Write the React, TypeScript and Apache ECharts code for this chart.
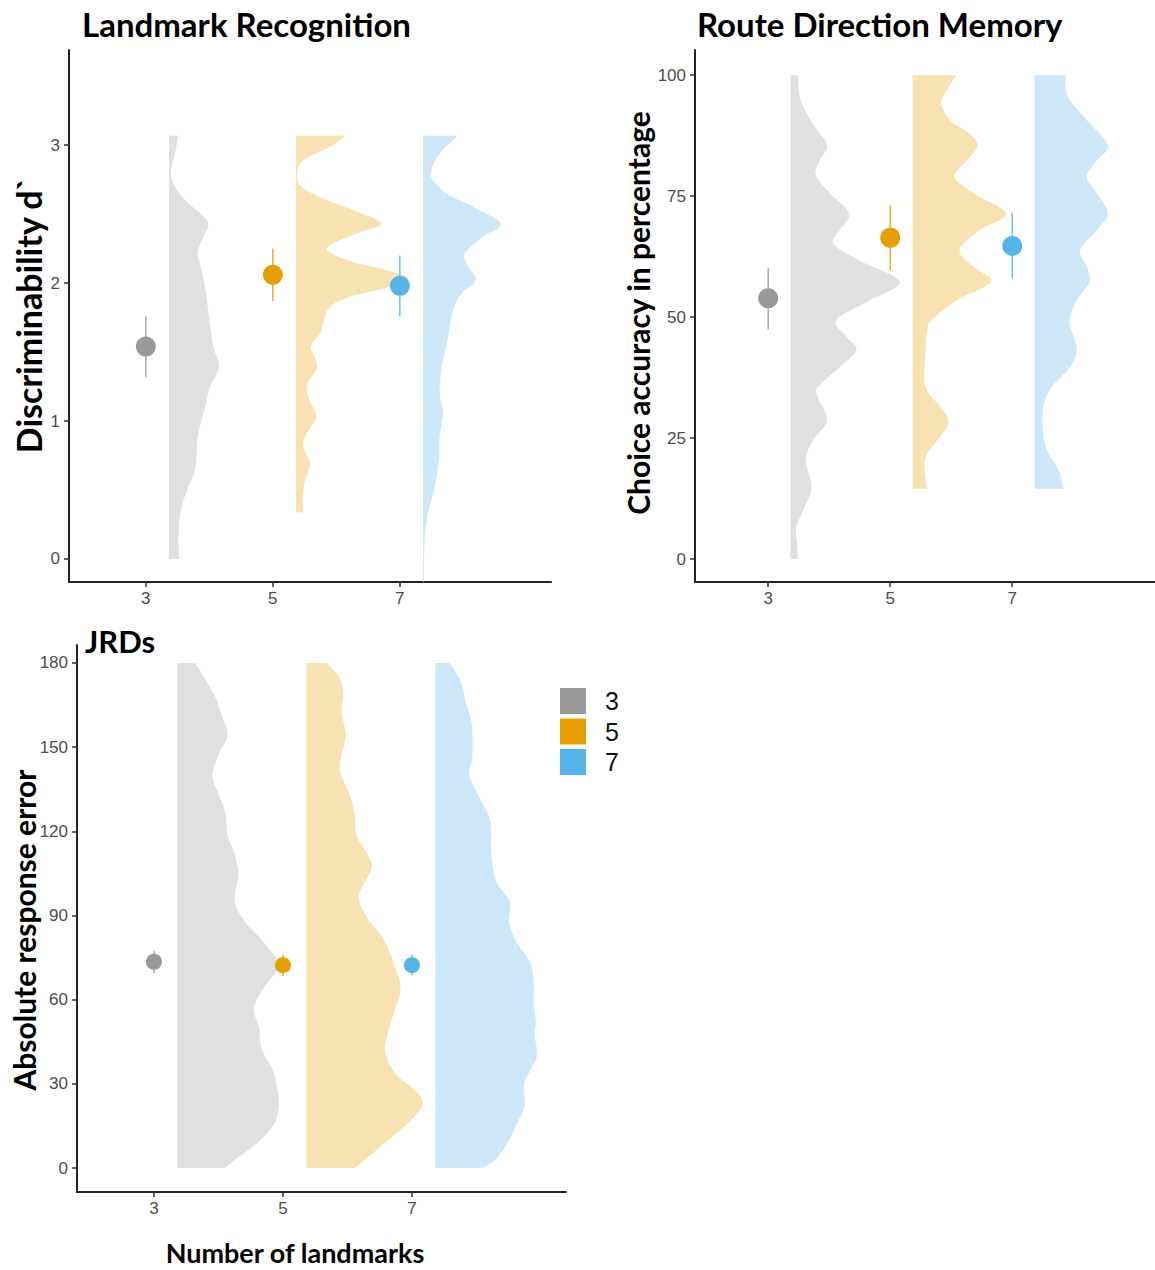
import React, { useEffect, useRef } from "react";
import * as echarts from "echarts";

const groups = ["3", "5", "7"];
const groupX = [3, 5, 7];
const pointColors = ["#999999", "#E69F00", "#56B4E9"];
const violinColors = ["#E0E0E0", "#F8E2B2", "#CCE8F8"];
const violinOffset = 0.365;
const xTicks = [3, 5, 7];

// Landmark Recognition (d')
const lrTicks = [0, 1, 2, 3];
const lrMean = [1.54, 2.06, 1.98];
const lrLow = [1.32, 1.87, 1.76];
const lrHigh = [1.76, 2.25, 2.2];
const lrViolin3 = [[3.07,0.147],[2.94,0.094],[2.8,0.031],[2.7,0.094],[2.6,0.252],[2.505,0.488],[2.43,0.619],[2.335,0.54],[2.215,0.451],[2.094,0.514],[1.925,0.583],[1.732,0.635],[1.538,0.698],[1.394,0.787],[1.249,0.646],[1.128,0.583],[1.007,0.514],[0.886,0.451],[0.766,0.436],[0.645,0.409],[0.524,0.304],[0.403,0.215],[0.283,0.163],[0.162,0.147],[0.0,0.157]];
const lrViolin5 = [[3.07,0.782],[2.988,0.535],[2.891,0.115],[2.795,0.021],[2.698,0.089],[2.601,0.483],[2.529,0.903],[2.432,1.339],[2.36,0.955],[2.287,0.588],[2.239,0.493],[2.167,0.798],[2.094,1.428],[2.034,1.769],[1.973,1.48],[1.901,0.85],[1.828,0.535],[1.732,0.441],[1.635,0.378],[1.538,0.236],[1.394,0.336],[1.273,0.178],[1.176,0.194],[1.031,0.315],[0.911,0.168],[0.814,0.115],[0.693,0.22],[0.572,0.142],[0.452,0.105],[0.336,0.115]];
const lrViolin7 = [[3.07,0.551],[2.94,0.262],[2.819,0.131],[2.746,0.157],[2.65,0.367],[2.553,0.787],[2.432,1.223],[2.336,0.945],[2.215,0.656],[2.143,0.682],[2.022,0.829],[1.925,0.604],[1.804,0.472],[1.611,0.394],[1.49,0.341],[1.37,0.289],[1.201,0.262],[1.056,0.315],[0.887,0.262],[0.718,0.252],[0.525,0.184],[0.332,0.079],[0.14,0.026],[-0.169,0.01]];

// Route Direction Memory (%)
const rdmTicks = [0, 25, 50, 75, 100];
const rdmMean = [53.9, 66.4, 64.7];
const rdmLow = [47.5, 59.7, 57.9];
const rdmHigh = [60.1, 73.1, 71.6];
const rdmViolin3 = [[100,0.126],[96.2,0.142],[93.5,0.208],[89.3,0.399],[85.5,0.601],[82.4,0.481],[79.3,0.415],[75.6,0.645],[71.4,0.962],[68.0,0.809],[65.2,0.699],[61.8,1.11],[57.3,1.792],[53.5,1.3],[49.4,0.754],[45.9,0.918],[43.2,1.082],[39.7,0.809],[35.6,0.454],[33.6,0.443],[28.7,0.601],[24.6,0.372],[20.5,0.251],[15.0,0.344],[10.8,0.235],[6.7,0.098],[3.2,0.109],[0,0.126]];
const rdmViolin5 = [[100,0.716],[96.9,0.563],[94.2,0.47],[90.7,0.617],[88.3,0.891],[85.5,1.066],[82.4,0.891],[79.0,0.689],[75.6,1.0],[71.4,1.53],[68.0,1.109],[63.8,0.77],[60.4,1.0],[57.3,1.29],[53.5,0.727],[49.4,0.317],[46.6,0.235],[41.1,0.208],[37.0,0.191],[34.3,0.262],[31.5,0.454],[28.4,0.59],[25.3,0.454],[21.9,0.246],[19.1,0.197],[14.5,0.235]];
const rdmViolin7 = [[100,0.514],[96.9,0.514],[94.2,0.612],[90.7,0.858],[85.5,1.202],[82.4,1.022],[79.0,0.858],[75.6,1.022],[71.4,1.202],[68.0,1.022],[63.8,0.749],[60.4,0.858],[57.3,0.902],[53.5,0.694],[49.4,0.574],[45.9,0.639],[43.2,0.694],[39.7,0.585],[35.6,0.284],[32.2,0.158],[27.3,0.131],[22.6,0.202],[18.4,0.393],[14.5,0.475]];

// JRDs (absolute response error)
const jrdTicks = [0, 30, 60, 90, 120, 150, 180];
const jrdMean = [73.5, 72.3, 72.3];
const jrdLow = [69.4, 68.4, 68.7];
const jrdHigh = [77.3, 76.1, 76.0];
const jrdViolin3 = [[180,0.269],[174.5,0.424],[167.4,0.594],[161.4,0.682],[154.3,0.775],[147.2,0.63],[139.5,0.543],[132.9,0.646],[125.8,0.749],[118.6,0.775],[111.5,0.889],[104.4,0.941],[94.9,0.889],[87.8,1.044],[80.6,1.328],[72.3,1.561],[64.0,1.328],[56.9,1.183],[49.8,1.266],[42.7,1.302],[34.4,1.483],[26.1,1.561],[20.1,1.561],[14.2,1.457],[8.2,1.199],[3.4,0.915],[0,0.734]];
const jrdViolin5 = [[180,0.31],[174.5,0.517],[168.6,0.568],[162.6,0.543],[154.3,0.61],[147.2,0.543],[141.0,0.527],[132.9,0.672],[125.8,0.749],[118.6,0.775],[111.5,0.956],[106.8,1.008],[99.6,0.853],[94.9,0.817],[87.8,0.982],[81.8,1.189],[73.5,1.344],[64.0,1.457],[54.5,1.344],[46.2,1.24],[40.3,1.23],[33.2,1.395],[27.3,1.705],[22.5,1.798],[16.6,1.602],[9.4,1.24],[3.4,0.93],[0,0.749]];
const jrdViolin7 = [[180,0.222],[173.3,0.393],[165.0,0.481],[159.0,0.558],[147.2,0.574],[141.0,0.522],[135.3,0.61],[129.4,0.739],[123.4,0.853],[111.5,0.868],[102.0,0.946],[94.9,1.152],[87.8,1.142],[80.6,1.256],[73.5,1.463],[66.3,1.525],[58.0,1.525],[52.2,1.556],[47.4,1.54],[40.3,1.576],[35.6,1.488],[29.7,1.375],[22.5,1.385],[16.6,1.282],[9.4,1.127],[3.4,0.946],[0,0.739]];

const panels = [
  { mean: lrMean, low: lrLow, high: lrHigh, violins: [lrViolin3, lrViolin5, lrViolin7], ticks: lrTicks,
    grid: { left: 69, top: 50, width: 482, height: 532 }, xRange: [1.79, 9.38], yRange: [-0.167, 3.69], size: 20 },
  { mean: rdmMean, low: rdmLow, high: rdmHigh, violins: [rdmViolin3, rdmViolin5, rdmViolin7], ticks: rdmTicks,
    grid: { left: 695, top: 50, width: 460, height: 532 }, xRange: [1.8, 9.34], yRange: [-4.75, 105.2], size: 20 },
  { mean: jrdMean, low: jrdLow, high: jrdHigh, violins: [jrdViolin3, jrdViolin5, jrdViolin7], ticks: jrdTicks,
    grid: { left: 77, top: 645, width: 489, height: 547 }, xRange: [1.806, 9.39], yRange: [-8.55, 186.4], size: 16 },
];

function catmull(pts: number[][]): number[][] {
  const out: number[][] = [];
  const n = pts.length;
  for (let i = 0; i < n - 1; i++) {
    const p0 = pts[Math.max(i - 1, 0)], p1 = pts[i], p2 = pts[i + 1], p3 = pts[Math.min(i + 2, n - 1)];
    const steps = 10;
    for (let s = 0; s < steps; s++) {
      const t = s / steps, t2 = t * t, t3 = t2 * t;
      const f = (k: number) =>
        0.5 * (2 * p1[k] + (-p0[k] + p2[k]) * t + (2 * p0[k] - 5 * p1[k] + 4 * p2[k] - p3[k]) * t2 +
          (-p0[k] + 3 * p1[k] - 3 * p2[k] + p3[k]) * t3);
      out.push([f(0), f(1)]);
    }
  }
  out.push(pts[n - 1]);
  return out;
}

const FONT = "Lato";
const TICKFONT = "Liberation Sans";

export default function App() {
  const ref = useRef<HTMLDivElement>(null);
  useEffect(() => {
    if (!ref.current) return;
    const chart = echarts.init(ref.current, undefined, { renderer: "svg" });
    const series: any[] = [];
    panels.forEach((p, pi) => {
      p.violins.forEach((v, g) => {
        const base = groupX[g] + violinOffset;
        series.push({
          type: "custom", name: `violin-${pi}-${g}`, xAxisIndex: pi, yAxisIndex: pi, clip: true, silent: true,
          data: [[base, v[0][0]]],
          renderItem: (params: any, api: any) => {
            const pts = v.map(([y, w]) => api.coord([base + w, y]));
            const curve = catmull(pts);
            const top = api.coord([base, v[0][0]]);
            const bot = api.coord([base, v[v.length - 1][0]]);
            return { type: "polygon", shape: { points: [top, ...curve, bot] }, style: { fill: violinColors[g] } };
          },
        });
      });
      groups.forEach((_, g) => {
        series.push({
          type: "custom", name: `err-${pi}-${g}`, xAxisIndex: pi, yAxisIndex: pi, silent: true,
          data: [[groupX[g], p.low[g], p.high[g]]],
          encode: { x: 0, y: [1, 2] },
          renderItem: (params: any, api: any) => {
            const a = api.coord([api.value(0), api.value(1)]);
            const b = api.coord([api.value(0), api.value(2)]);
            return { type: "line", shape: { x1: a[0], y1: a[1], x2: b[0], y2: b[1] },
              style: { stroke: pointColors[g], lineWidth: 1.5, opacity: 0.85 } };
          },
        });
      });
      groups.forEach((name, g) => {
        series.push({
          type: "scatter", name, xAxisIndex: pi, yAxisIndex: pi, silent: true,
          data: [[groupX[g], p.mean[g]]], symbol: "circle", symbolSize: p.size,
          itemStyle: { color: pointColors[g], opacity: 1 },
        });
      });
    });

    const axisLine = { show: true, onZero: false, lineStyle: { color: "#222", width: 2 } };
    const option: any = {
      animation: false,
      textStyle: { fontFamily: FONT },
      grid: panels.map((p) => ({ ...p.grid, containLabel: false })),
      xAxis: panels.map((p, pi) => ({
        gridIndex: pi, type: "value", min: p.xRange[0], max: p.xRange[1],
        axisLine, splitLine: { show: false },
        axisTick: { show: true, customValues: xTicks, length: 5, lineStyle: { color: "#333", width: 1.5 } },
        axisLabel: { customValues: xTicks, color: "#4D4D4D", fontSize: 17, fontFamily: TICKFONT, margin: 8 },
      })),
      yAxis: panels.map((p, pi) => ({
        gridIndex: pi, type: "value", min: p.yRange[0], max: p.yRange[1],
        axisLine, splitLine: { show: false },
        axisTick: { show: true, customValues: p.ticks, length: 5, lineStyle: { color: "#333", width: 1.5 } },
        axisLabel: { customValues: p.ticks, color: "#4D4D4D", fontSize: 17, fontFamily: TICKFONT, margin: 9 },
      })),
      legend: {
        data: groups, orient: "vertical", left: 560, top: 688, icon: "rect", padding: 0,
        itemWidth: 26, itemHeight: 26, itemGap: 4.5, selectedMode: false,
        textStyle: { fontSize: 25, color: "#111", fontFamily: TICKFONT, padding: [0, 0, 0, 14] },
      },
      graphic: [
        { type: "text", x: 82, y: 24, style: { text: "Landmark Recognition", font: `bold 33px ${FONT}`, fill: "#000", textVerticalAlign: "middle" } },
        { type: "text", x: 697, y: 24, style: { text: "Route Direction Memory", font: `bold 33px ${FONT}`, fill: "#000", textVerticalAlign: "middle" } },
        { type: "text", x: 85, y: 641, style: { text: "JRDs", font: `bold 31px ${FONT}`, fill: "#000", textVerticalAlign: "middle" } },
        { type: "text", x: 28, y: 315, rotation: Math.PI / 2, style: { text: "Discriminability d`", font: `bold 34px ${FONT}`, fill: "#000", textAlign: "center", textVerticalAlign: "middle" } },
        { type: "text", x: 638, y: 313, rotation: Math.PI / 2, style: { text: "Choice accuracy in percentage", font: `bold 30px ${FONT}`, fill: "#000", textAlign: "center", textVerticalAlign: "middle" } },
        { type: "text", x: 24, y: 930, rotation: Math.PI / 2, style: { text: "Absolute response error", font: `bold 30px ${FONT}`, fill: "#000", textAlign: "center", textVerticalAlign: "middle" } },
        { type: "text", x: 295, y: 1252, style: { text: "Number of landmarks", font: `bold 27px ${FONT}`, fill: "#000", textAlign: "center", textVerticalAlign: "middle" } },
      ],
      series,
    };
    chart.setOption(option);
    return () => chart.dispose();
  }, []);
  return <div ref={ref} style={{ position: "absolute", left: 0, top: 0, width: 1155, height: 1270, background: "#fff" }} />;
}
